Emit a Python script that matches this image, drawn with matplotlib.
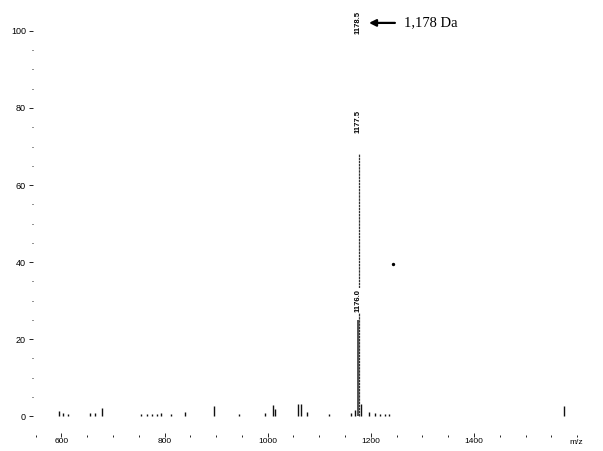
import matplotlib
matplotlib.use("Agg")
import matplotlib.pyplot as plt

# ---- data ----
peak_mz = [596, 604, 613, 656, 666, 679, 754, 766, 775, 785, 794, 813, 839,
           896, 945, 995, 1011, 1014, 1058, 1065, 1076, 1118, 1161, 1170,
           1180, 1197, 1208, 1218, 1227, 1235, 1574]
peak_int = [1.3, 0.8, 0.6, 0.7, 0.9, 2.0, 0.4, 0.4, 0.5, 0.5, 0.8, 0.5, 1.0,
            2.5, 0.5, 0.8, 2.8, 1.8, 3.0, 3.2, 1.0, 0.6, 0.8, 1.5,
            3.0, 1.0, 0.8, 0.6, 0.5, 0.4, 2.5]
main_mz = [1176.0, 1177.5]
main_int = [25, 68]
main_labels = ["1176.0", "1177.5"]
top_label = "1178.5"
top_mz = 1178.5
stray_mz = [1243]
stray_int = [39.5]

x_major = [600, 800, 1000, 1200, 1400]
y_major = [0, 20, 40, 60, 80, 100]

fig = plt.figure(figsize=(6.03, 4.51), dpi=100)
ax = fig.add_axes([33 / 603, 14 / 451, 570 / 603, 437 / 451])
ax.set_xlim(545, 1628.5)
ax.set_ylim(-5.45, 108.05)
for s in ax.spines.values():
    s.set_visible(False)

font = "Liberation Sans"

# small peaks
ax.vlines(peak_mz, 0, peak_int, colors="#111111", lw=1.0)
# main cluster
ax.vlines(main_mz[1], 0, main_int[1], colors="#333333", lw=0.9,
          linestyles=(0, (2.0, 0.5)))
ax.vlines(main_mz[0], 0, main_int[0], colors="#222222", lw=1.1)
ax.scatter(stray_mz, stray_int, s=2, color="k")

# peak labels
offsets = [2.0, 5.5]
for m, v, lab, off in zip(main_mz, main_int, main_labels, offsets):
    ax.text(main_mz[0], v + off, lab, rotation=90, ha="center", va="bottom",
            fontsize=5.5, fontweight="bold", family=font,
            bbox=dict(facecolor="white", edgecolor="none", pad=0.6))
ax.text(main_mz[0], 102.1, top_label, rotation=90, ha="center",
        va="center", fontsize=5.5, fontweight="bold", family=font)
ax.annotate("", xy=(1191, 102.1), xytext=(1252, 102.1),
            arrowprops=dict(arrowstyle="-|>", color="k", lw=1.6,
                            mutation_scale=10))
ax.text(1264, 102.1, "1,178 Da", ha="left", va="center",
        fontsize=10.5, family="Liberation Serif")

# axes ticks
ax.set_xticks(x_major)
ax.set_xticks(range(550, 1651, 50), minor=True)
ax.set_yticks(y_major)
ax.set_yticks(range(0, 101, 5), minor=True)
ax.tick_params(axis="x", which="major", direction="in", length=3, width=0.6,
               pad=1, labelsize=6)
ax.tick_params(axis="x", which="minor", direction="in", length=1.5, width=0.6)
ax.tick_params(axis="y", which="major", direction="out", length=3, width=0.6,
               pad=2, labelsize=6.5)
ax.tick_params(axis="y", which="minor", direction="out", length=1, width=0.6)
for lab in ax.get_xticklabels() + ax.get_yticklabels():
    lab.set_family(font)
ax.text(1598, -5.45 - 0.4, "m/z", ha="center", va="top", fontsize=6,
        family=font)

fig.savefig("out.png", dpi=100)
